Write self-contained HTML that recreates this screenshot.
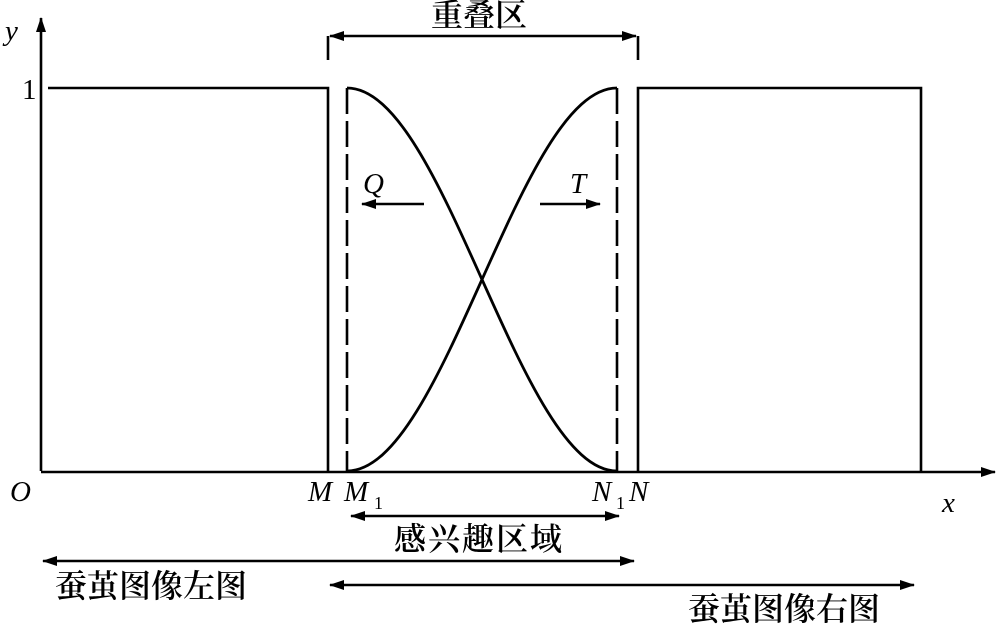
<!DOCTYPE html>
<html><head><meta charset="utf-8"><style>
html,body{margin:0;padding:0;background:#fff;}
svg{display:block;}
text{font-family:"Liberation Serif","Noto Serif CJK SC",serif;fill:#000;}
.cjk{font-family:"Liberation Serif","Noto Serif CJK SC","Noto Sans CJK SC",serif;font-size:32px;font-weight:600;}
.it{font-style:italic;font-size:29px;}
</style></head><body>
<svg width="1000" height="625" viewBox="0 0 1000 625" xmlns="http://www.w3.org/2000/svg">
<defs>
<marker id="a" markerWidth="15" markerHeight="10" refX="14" refY="5" orient="auto-start-reverse" markerUnits="userSpaceOnUse">
<path d="M0,0 L15,5 L0,10 Z" fill="#000"/></marker>
</defs>
<g stroke="#000" stroke-width="2.6" fill="none">
<line x1="41" y1="471" x2="41" y2="18" marker-end="url(#a)"/>
<line x1="41" y1="472" x2="995" y2="472" marker-end="url(#a)"/>
<polyline points="48,88 328,88 328,471"/>
<polyline points="638,471 638,88 921,88 921,471"/>
<line x1="328" y1="36" x2="328" y2="60"/>
<line x1="638" y1="36" x2="638" y2="60"/>
<line x1="330" y1="36" x2="636" y2="36" marker-start="url(#a)" marker-end="url(#a)"/>
<line x1="347" y1="88" x2="347" y2="471" stroke-dasharray="26,7"/>
<line x1="617" y1="88" x2="617" y2="471" stroke-dasharray="26,7"/>
<path d="M347,88 C445,88 519,471 617,471" stroke-width="2.8"/>
<path d="M347,471 C445,471 519,88 617,88" stroke-width="2.8"/>
<line x1="424" y1="204" x2="362" y2="204" marker-end="url(#a)"/>
<line x1="540" y1="204" x2="600" y2="204" marker-end="url(#a)"/>
<line x1="351" y1="516" x2="619" y2="516" marker-start="url(#a)" marker-end="url(#a)"/>
<line x1="43" y1="561" x2="634" y2="561" marker-start="url(#a)" marker-end="url(#a)"/>
<line x1="330" y1="585" x2="914" y2="585" marker-start="url(#a)" marker-end="url(#a)"/>
</g>
<text class="cjk" x="479" y="26" text-anchor="middle">重叠区</text>
<text class="it" x="5" y="40">y</text>
<text x="22" y="99" font-size="29">1</text>
<text class="it" x="363" y="193">Q</text>
<text class="it" x="570" y="193">T</text>
<text class="it" x="10" y="501">O</text>
<text class="it" x="308" y="501">M</text>
<text class="it" x="344" y="501">M</text>
<text x="374" y="509" font-size="18">1</text>
<text class="it" x="592" y="501">N</text>
<text x="616" y="509" font-size="18">1</text>
<text class="it" x="629" y="501">N</text>
<text class="it" x="942" y="512">x</text>
<text class="cjk" x="479" y="550" text-anchor="middle" letter-spacing="2">感兴趣区域</text>
<text class="cjk" x="55" y="597">蚕茧图像左图</text>
<text class="cjk" x="688" y="620">蚕茧图像右图</text>
</svg>
</body></html>
